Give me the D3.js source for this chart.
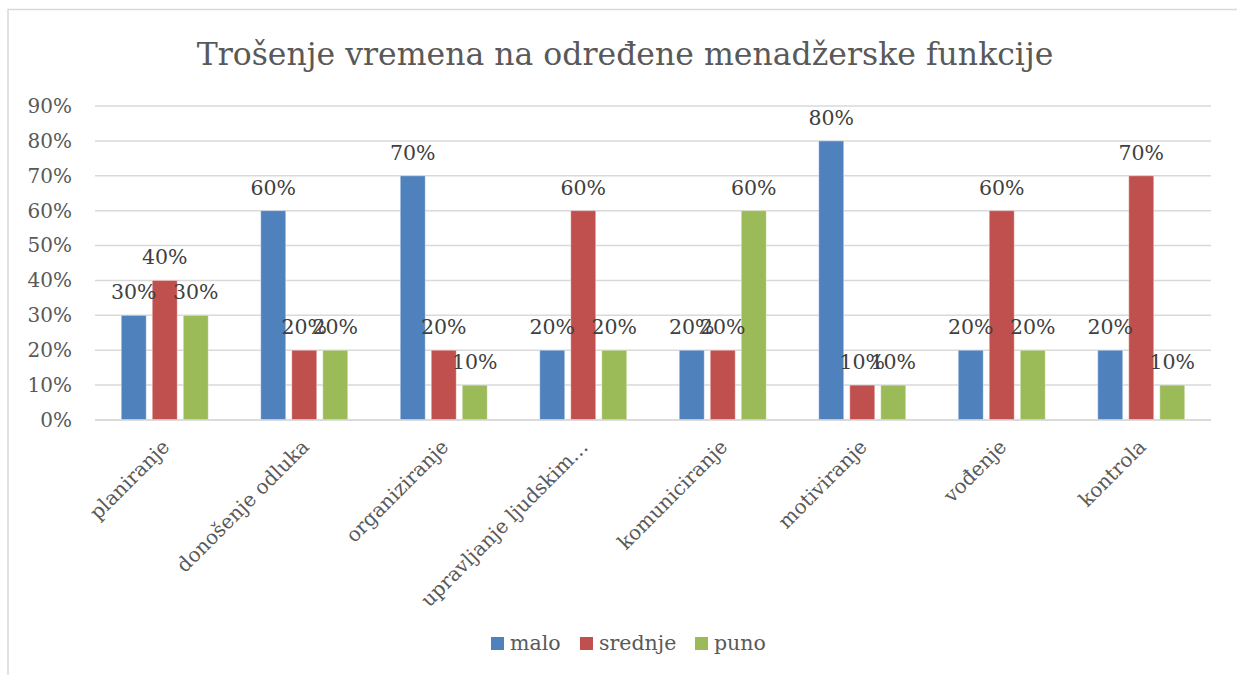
<!DOCTYPE html>
<html>
<head>
<meta charset="utf-8">
<script src="https://cdn.jsdelivr.net/npm/d3@7"></script>
<style>
  body { margin: 0; background: #fff; }
  text { font-family: "DejaVu Serif", serif; }
</style>
</head>
<body>
<script>
// chart data
const categories = ["planiranje", "donošenje odluka", "organiziranje", "upravljanje ljudskim…",
                    "komuniciranje", "motiviranje", "vođenje", "kontrola"];
const seriesNames = ["malo", "srednje", "puno"];
const malo    = [0.3, 0.6, 0.7, 0.2, 0.2, 0.8, 0.2, 0.2];
const srednje = [0.4, 0.2, 0.2, 0.6, 0.2, 0.1, 0.6, 0.7];
const puno    = [0.3, 0.2, 0.1, 0.2, 0.6, 0.1, 0.2, 0.1];
const yTicks  = [0, 0.1, 0.2, 0.3, 0.4, 0.5, 0.6, 0.7, 0.8, 0.9];
const titleText = "Trošenje vremena na određene menadžerske funkcije";

const colors = ["#4f81bd", "#c0504d", "#9bbb59"];
const allSeries = [malo, srednje, puno];

var svgWidth = 1237, svgHeight = 675;
var margin = { top: 106, right: 26, bottom: 255, left: 95 };
var chartWidth = svgWidth - margin.left - margin.right;
var chartHeight = svgHeight - margin.top - margin.bottom;

var svg = d3.select("body").append("svg")
  .attr("width", svgWidth)
  .attr("height", svgHeight);

// outer border (only top and left visible in the picture)
svg.append("path")
  .attr("d", "M8,675 V9.5 H1237")
  .attr("fill", "none")
  .attr("stroke", "#d9d9d9")
  .attr("stroke-width", 1.5);

svg.append("text")
  .attr("x", 625)
  .attr("y", 65)
  .attr("text-anchor", "middle")
  .attr("font-size", 31.5)
  .attr("fill", "#595959")
  .text(titleText);

var chartGroup = svg.append("g")
  .attr("transform", `translate(${margin.left}, ${margin.top})`);

var x0 = d3.scaleBand()
  .domain(categories)
  .range([0, chartWidth]);

var x1 = d3.scaleBand()
  .domain(seriesNames)
  .range([x0.bandwidth() / 2 - 43.5, x0.bandwidth() / 2 + 43.5])
  .paddingInner(0.194);

var y = d3.scaleLinear()
  .domain([0, 0.9])
  .range([chartHeight, 0]);

// gridlines
chartGroup.selectAll(".grid")
  .data(yTicks)
  .enter()
  .append("line")
  .attr("x1", 0)
  .attr("x2", chartWidth)
  .attr("y1", d => y(d))
  .attr("y2", d => y(d))
  .attr("stroke", "#d9d9d9")
  .attr("stroke-width", 1.5);

// y axis labels
var leftAxis = d3.axisLeft(y).tickValues(yTicks).tickFormat(d3.format(".0%")).tickSize(0).tickPadding(23);
var yAxisG = chartGroup.append("g").call(leftAxis);
yAxisG.select(".domain").remove();
yAxisG.selectAll("text")
  .attr("font-family", "DejaVu Serif")
  .attr("font-size", 20)
  .attr("fill", "#595959");

// bars
var groups = chartGroup.selectAll(".cat")
  .data(categories)
  .enter()
  .append("g")
  .attr("transform", d => `translate(${x0(d)}, 0)`);

groups.selectAll("rect")
  .data((d, i) => seriesNames.map((s, j) => ({ s: s, v: allSeries[j][i], c: colors[j] })))
  .enter()
  .append("rect")
  .attr("x", d => x1(d.s))
  .attr("width", x1.bandwidth())
  .attr("y", d => y(d.v))
  .attr("height", d => chartHeight - y(d.v))
  .attr("fill", d => d.c)
  .attr("stroke", "#fff")
  .attr("stroke-opacity", 0.4)
  .attr("stroke-width", 1);

groups.selectAll(".lbl")
  .data((d, i) => seriesNames.map((s, j) => ({ s: s, v: allSeries[j][i] })))
  .enter()
  .append("text")
  .attr("x", d => x1(d.s) + x1.bandwidth() / 2)
  .attr("y", d => y(d.v) - 16)
  .attr("text-anchor", "middle")
  .attr("font-size", 20.5)
  .attr("fill", "#404040")
  .text(d => d3.format(".0%")(d.v));

// x axis line
chartGroup.append("line")
  .attr("x1", 0)
  .attr("x2", chartWidth)
  .attr("y1", chartHeight)
  .attr("y2", chartHeight)
  .attr("stroke", "#d9d9d9")
  .attr("stroke-width", 1.5);

// category labels, rotated
chartGroup.selectAll(".catLabel")
  .data(categories)
  .enter()
  .append("text")
  .attr("text-anchor", "end")
  .attr("font-size", 20)
  .attr("fill", "#595959")
  .attr("transform", d => `translate(${x0(d) + x0.bandwidth() / 2 + 6}, ${chartHeight + 28}) rotate(-45)`)
  .text(d => d);

// legend
var legendX = [491, 580, 695];
var legend = svg.selectAll(".legend")
  .data(seriesNames)
  .enter()
  .append("g")
  .attr("transform", (d, i) => `translate(${legendX[i]}, 637)`);
legend.append("rect")
  .attr("width", 13)
  .attr("height", 13)
  .attr("fill", (d, i) => colors[i]);
legend.append("text")
  .attr("x", 19)
  .attr("y", 13)
  .attr("font-size", 20.5)
  .attr("fill", "#595959")
  .text(d => d);
</script>
</body>
</html>
